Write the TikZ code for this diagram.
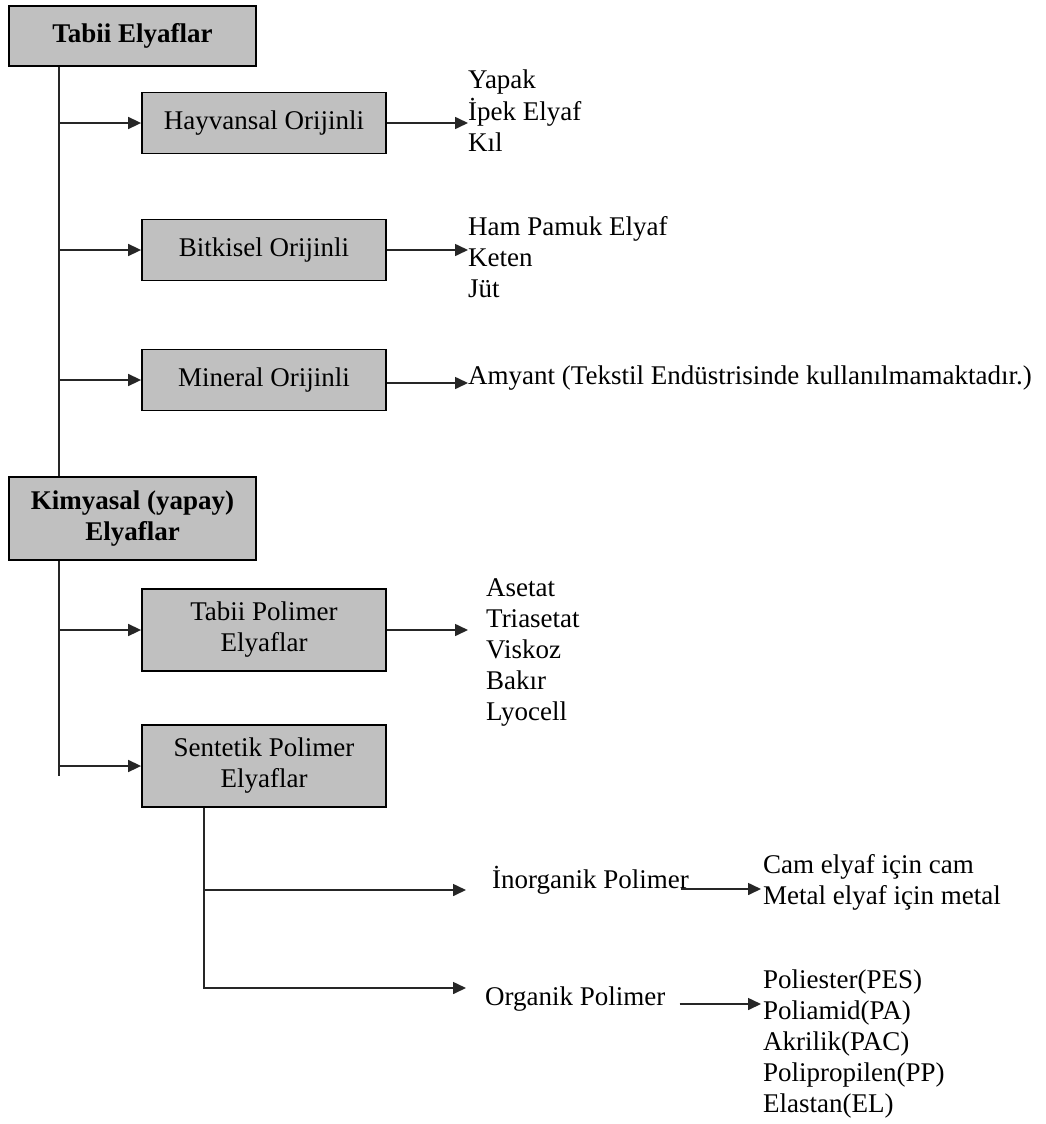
\documentclass[tikz,border=0pt]{standalone}
\usepackage{fontspec}
\setmainfont{Liberation Serif}
\usetikzlibrary{arrows.meta,calc}
\definecolor{boxgray}{HTML}{C0C0C0}
\newcommand\fsz{\fontsize{27}{31}\selectfont}
\newcommand\itm[1]{#1\strut}
\begin{document}
\begin{tikzpicture}[x=1pt,y=-1pt,
  box/.style={draw=black,line width=1.8pt,fill=boxgray,minimum width=244pt,minimum height=61pt,inner sep=0pt,align=center,font=\fsz},
  topbox/.style={box,minimum width=247pt},
  lst/.style={anchor=west,inner sep=0pt,align=left,font=\fsz},
  txt/.style={anchor=base west,inner sep=0pt,font=\fsz},
  ln/.style={draw=black!85,line width=1.6pt},
  arr/.style={ln,-{Triangle[length=13pt,width=12pt]}}]
\fill[white] (0,0) rectangle (1045,1124);
\useasboundingbox (0,0) rectangle (1045,1124);

% boxes
\node[topbox,minimum height=60pt] (te) at (132.5,36) {\bfseries Tabii Elyaflar};
\node[box] (hay) at (264,123) {Hayvansal Orijinli};
\node[box] (bit) at (264,250) {Bitkisel Orijinli};
\node[box] (min) at (264,380) {Mineral Orijinli};
\node[topbox,minimum height=83pt] (kim) at (132.5,518.5) {\bfseries Kimyasal (yapay)\\\bfseries Elyaflar};
\node[box,minimum height=82pt] (tp) at (264,630) {Tabii Polimer\\Elyaflar};
\node[box,minimum height=82pt] (sp) at (264,766) {Sentetik Polimer\\Elyaflar};

% lists
\node[lst] (hayL) at (468,113.8) {\itm{Yapak}\\\itm{İpek Elyaf}\\\itm{Kıl}};
\node[lst] (bitL) at (468,260.3) {\itm{Ham Pamuk Elyaf}\\\itm{Keten}\\\itm{Jüt}};
\node[lst] (amy) at (468,377.8) {\itm{Amyant (Tekstil Endüstrisinde kullanılmamaktadır.)}};
\node[lst] (tpL) at (486,651.8) {\itm{Asetat}\\\itm{Triasetat}\\\itm{Viskoz}\\\itm{Bakır}\\\itm{Lyocell}};
\node[txt] (inor) at (492,888) {İnorganik Polimer};
\node[txt] (org) at (485,1005) {Organik Polimer};
\node[lst] (cam) at (763,882.8) {\itm{Cam elyaf için cam}\\\itm{Metal elyaf için metal}};
\node[lst] (orgL) at (763,1043.8) {\itm{Poliester(PES)}\\\itm{Poliamid(PA)}\\\itm{Akrilik(PAC)}\\\itm{Polipropilen(PP)}\\\itm{Elastan(EL)}};

% trunk 1
\coordinate (t1) at ($(te.south west)+(51,0)$);
\draw[ln] (t1) -- (t1 |- kim.north);
\draw[arr] (t1 |- hay.west) -- (hay.west);
\draw[arr] (t1 |- bit.west) -- (bit.west);
\draw[arr] (t1 |- min.west) -- (min.west);

% trunk 2
\coordinate (t2) at ($(kim.south west)+(51,0)$);
\coordinate (t2e) at ($(t2)+(0,215)$);
\draw[ln] (t2) -- (t2e);
\draw[arr] (t2 |- tp.west) -- (tp.west);
\draw[arr] (t2 |- sp.west) -- (sp.west);

% box to list arrows
\draw[arr] (hay.east) -- (hay.east -| hayL.west);
\draw[arr] (bit.east) -- (bit.east -| bitL.west);
\draw[arr] ($(min.east)+(0,3)$) -- ($(min.east -| amy.west)+(0,3)$);
\draw[arr] (tp.east) -- ($(tp.east -| tpL.west)+(-18,0)$);

% sub trunk
\coordinate (st) at ($(sp.south west)+(63,0)$);
\coordinate (inorIn) at ($(inor.base west)+(-26,2)$);
\coordinate (orgIn) at ($(org.base west)+(-19,-17)$);
\draw[arr] (st) |- (orgIn);
\draw[arr] (st |- inorIn) -- (inorIn);
\draw[arr] ($(inor.base east)+(-8,1)$) -- ($(inor.base east -| cam.west)+(-2,1)$);
\draw[arr] ($(org.base east)+(14,-1)$) -- ($(org.base east -| orgL.west)+(-2,-1)$);
\end{tikzpicture}
\end{document}
